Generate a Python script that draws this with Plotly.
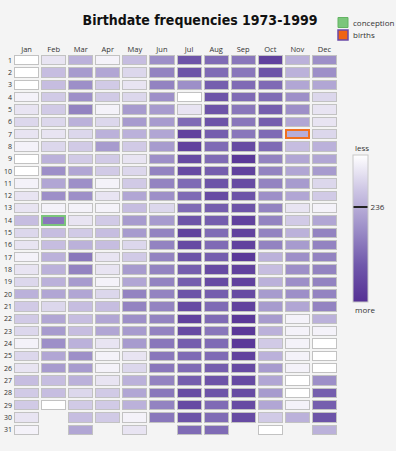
import plotly.graph_objects as go

months = ["Jan", "Feb", "Mar", "Apr", "May", "Jun", "Jul", "Aug", "Sep", "Oct", "Nov", "Dec"]
days = list(range(1, 32))

# Frequency rank of each date (1 = most births, 366 = fewest), read per month, day 1..n
jan = [366, 366, 366, 346, 325, 305, 325, 346, 366, 366, 346, 325, 325, 265, 305, 325, 346, 325, 305, 244, 285, 285, 305, 346, 305, 325, 265, 285, 285, 325, 346]
feb = [325, 265, 265, 285, 285, 305, 325, 305, 244, 184, 224, 184, 346, 143, 265, 265, 244, 244, 244, 224, 305, 224, 204, 184, 224, 204, 265, 265, 366]
mar = [244, 204, 184, 184, 163, 244, 305, 285, 285, 224, 184, 184, 346, 325, 285, 244, 143, 163, 204, 224, 265, 265, 265, 244, 184, 204, 244, 305, 285, 265, 224]
apr = [346, 224, 285, 285, 346, 305, 244, 204, 285, 285, 346, 325, 346, 285, 265, 265, 325, 325, 346, 305, 265, 224, 224, 325, 346, 346, 325, 285, 285, 285]
may = [265, 305, 325, 305, 204, 204, 244, 285, 325, 305, 285, 224, 265, 204, 204, 305, 285, 204, 224, 163, 163, 184, 204, 204, 325, 305, 244, 224, 244, 346, 325]
jun = [184, 163, 163, 184, 204, 204, 224, 204, 184, 163, 163, 184, 305, 204, 163, 163, 163, 163, 163, 163, 163, 163, 163, 143, 143, 143, 163, 143, 163, 143]
jul = [82, 82, 184, 366, 325, 123, 42, 42, 62, 62, 123, 123, 123, 82, 42, 62, 82, 103, 103, 82, 62, 42, 62, 103, 123, 123, 103, 62, 62, 82, 123]
aug = [123, 123, 103, 82, 82, 82, 103, 123, 123, 103, 82, 62, 103, 103, 123, 123, 103, 62, 62, 103, 123, 123, 143, 123, 123, 103, 82, 82, 123, 123, 123]
sep = [143, 143, 123, 123, 143, 143, 143, 62, 22, 42, 62, 82, 82, 42, 42, 42, 22, 42, 42, 62, 42, 22, 22, 22, 42, 62, 62, 62, 62, 62]
oct_ = [42, 82, 123, 123, 103, 103, 123, 123, 163, 163, 163, 184, 163, 163, 163, 163, 244, 265, 244, 204, 204, 204, 244, 285, 244, 204, 224, 204, 224, 285, 366]
nov = [244, 244, 224, 184, 184, 224, 236, 265, 224, 224, 204, 224, 325, 285, 244, 204, 184, 184, 184, 184, 224, 346, 346, 346, 346, 346, 366, 366, 346, 244]
dec = [184, 184, 224, 305, 325, 325, 305, 244, 224, 204, 305, 285, 346, 224, 163, 163, 163, 163, 163, 163, 163, 244, 346, 366, 366, 366, 184, 103, 103, 82, 244]

conception = ("Feb", 14)
birth = ("Nov", 7)
marked_rank = 236

cols = [jan, feb, mar, apr, may, jun, jul, aug, sep, oct_, nov, dec]
xs = list(range(len(months)))

def cell(m, d):
    col = cols[m]
    return col[d - 1] if d <= len(col) else None

hl = {(months.index(conception[0]), conception[1]): 0, (months.index(birth[0]), birth[1]): 1}

z_frame = [[(1 if cell(m, d) is not None else None) for m in xs] for d in days]
z_main = [[(None if (m, d) in hl else cell(m, d)) for m in xs] for d in days]
z_hl_frame = [[hl.get((m, d)) for m in xs] for d in days]
z_hl_in = [[(cell(m, d) if (m, d) in hl else None) for m in xs] for d in days]

purples = [[0.0, "#553094"], [0.25, "#7058ab"], [0.5, "#9d8fc8"], [0.75, "#cbc3e3"], [1.0, "#ffffff"]]

W, H = 396, 451
ML, MR, MT, MB = 13, 58, 54, 15

def px_x(v):
    return (v - ML) / (W - ML - MR)

def px_y(v):
    return (H - MB - v) / (H - MT - MB)

fig = go.Figure()
fig.add_trace(go.Heatmap(x=xs, y=days, z=z_frame, colorscale=[[0, "#c2c2c2"], [1, "#c2c2c2"]],
                         showscale=False, xgap=2, ygap=2, hoverinfo="skip"))
fig.add_trace(go.Heatmap(x=xs, y=days, z=z_hl_frame, zmin=0, zmax=1,
                         colorscale=[[0, "#7cc47c"], [0.5, "#7cc47c"], [0.5, "#f07020"], [1, "#f07020"]],
                         showscale=False, xgap=2, ygap=2, hoverinfo="skip"))
fig.add_trace(go.Heatmap(x=xs, y=days, z=z_main, zmin=1, zmax=366, colorscale=purples,
                         xgap=4, ygap=4,
                         colorbar=dict(x=px_x(352.5), xanchor="left",
                                       y=px_y(155), yanchor="top", lenmode="pixels", len=147,
                                       thicknessmode="pixels", thickness=15, xpad=0, ypad=0,
                                       outlinecolor="#c8c8c8", outlinewidth=1,
                                       tickvals=[marked_rank], ticktext=[str(marked_rank)],
                                       ticks="inside", ticklen=15, tickwidth=2, tickcolor="#222",
                                       tickfont=dict(size=8, color="#333", family="Open Sans"))))
fig.add_trace(go.Heatmap(x=xs, y=days, z=z_hl_in, zmin=1, zmax=366, colorscale=purples,
                         showscale=False, xgap=6, ygap=6, hoverinfo="skip"))

fig.update_layout(
    width=W, height=H,
    margin=dict(l=ML, r=MR, t=MT, b=MB, autoexpand=False),
    paper_bgcolor="#f4f4f4", plot_bgcolor="#f4f4f4",
    font=dict(family="Open Sans", size=8, color="#333"),
    title=dict(text="<b>Birthdate frequencies 1973-1999</b>", xref="container", x=200 / W,
               xanchor="center", y=1 - 20 / H, yanchor="middle",
               font=dict(family="DejaVu Sans Condensed, sans-serif", size=14, color="#111")),
    xaxis=dict(range=[-0.5, 11.5], tickvals=xs, ticktext=months, side="top", showgrid=False,
               zeroline=False, showline=False, ticks="", tickfont=dict(size=7.5), automargin=False),
    yaxis=dict(range=[31.5, 0.5], tickvals=days, ticktext=[str(d) for d in days], showgrid=False,
               zeroline=False, showline=False, ticks="", tickfont=dict(size=7), automargin=False),
    showlegend=False,
)

# legend swatches and labels
fig.add_shape(type="rect", xref="paper", yref="paper", x0=px_x(338), x1=px_x(348), y0=px_y(27.5), y1=px_y(17.5),
              fillcolor="#7bc67b", line=dict(color="#63b363", width=1))
fig.add_shape(type="rect", xref="paper", yref="paper", x0=px_x(338), x1=px_x(348), y0=px_y(40), y1=px_y(30),
              fillcolor="#f06414", line=dict(color="#6a4aa8", width=1.5))
fig.add_annotation(text="conception", xref="paper", yref="paper", x=px_x(351), y=px_y(22.5),
                   xanchor="left", yanchor="middle", showarrow=False, font=dict(size=8, color="#333"))
fig.add_annotation(text="births", xref="paper", yref="paper", x=px_x(351), y=px_y(35),
                   xanchor="left", yanchor="middle", showarrow=False, font=dict(size=8, color="#333"))
fig.add_annotation(text="less", xref="paper", yref="paper", x=px_x(353), y=px_y(147),
                   xanchor="left", yanchor="middle", showarrow=False, font=dict(size=8, color="#333"))
fig.add_annotation(text="more", xref="paper", yref="paper", x=px_x(353), y=px_y(309),
                   xanchor="left", yanchor="middle", showarrow=False, font=dict(size=8, color="#333"))

fig.write_html("out.html", config={"displayModeBar": False},
               post_script="document.body.style.margin='0';")
